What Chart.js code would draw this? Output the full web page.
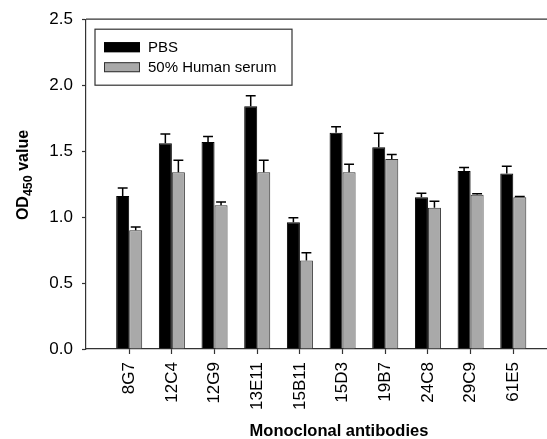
<!DOCTYPE html>
<html>
<head>
<meta charset="utf-8">
<script src="https://cdn.jsdelivr.net/npm/chart.js@4"></script>
<style>
  html, body { margin: 0; padding: 0; background: #fff; }
  #wrap { width: 547px; height: 439px; }
</style>
</head>
<body>
<div id="wrap"><canvas id="chart" width="547" height="439"></canvas></div>
<script>
'use strict';

// ─── Data ─────────────────────────────────────────────────────────────────────

const antibodies = ['8G7', '12C4', '12G9', '13E11', '15B11', '15D3', '19B7', '24C8', '29C9', '61E5'];
const pbsValues   = [1.16, 1.56, 1.57, 1.84, 0.96, 1.64, 1.53, 1.15, 1.35, 1.33];
const pbsErrors   = [0.06, 0.07, 0.04, 0.08, 0.035, 0.045, 0.105, 0.03, 0.025, 0.055];
const serumValues = [0.90, 1.34, 1.09, 1.34, 0.67, 1.34, 1.44, 1.07, 1.17, 1.15];
const serumErrors = [0.025, 0.09, 0.025, 0.09, 0.06, 0.06, 0.035, 0.05, 0.006, 0.006];
const yTicks = [0, 0.5, 1.0, 1.5, 2.0, 2.5];

const FONT = "'Liberation Sans', Arial, sans-serif";

// ─── Plugins ──────────────────────────────────────────────────────────────────

const errorBars = {
  id: 'errorBars',
  afterDatasetsDraw(chart) {
    const { ctx, scales: { y } } = chart;
    ctx.save();
    ctx.strokeStyle = '#000';
    ctx.lineWidth = 1.5;
    chart.data.datasets.forEach((ds, di) => {
      const meta = chart.getDatasetMeta(di);
      meta.data.forEach((bar, i) => {
        const top = y.getPixelForValue(ds.data[i].y + ds.errors[i]);
        const half = bar.width * 0.38;
        ctx.beginPath();
        ctx.moveTo(bar.x, bar.y);
        ctx.lineTo(bar.x, top);
        ctx.moveTo(bar.x - half, top);
        ctx.lineTo(bar.x + half, top);
        ctx.stroke();
      });
    });
    ctx.restore();
  },
};

const frame = {
  id: 'frame',
  afterDraw(chart) {
    const { ctx, chartArea: a } = chart;
    const o = chart.options.plugins.frame;
    ctx.save();

    // top border
    ctx.strokeStyle = '#333';
    ctx.lineWidth = 1.2;
    ctx.beginPath();
    ctx.moveTo(a.left, a.top);
    ctx.lineTo(a.right, a.top);
    ctx.stroke();

    // legend box
    const lx = a.left + 9, ly = a.top + 10;
    ctx.lineWidth = 1.2;
    ctx.strokeRect(lx, ly, 197, 56);
    ctx.font = `15px ${FONT}`;
    ctx.textBaseline = 'middle';
    chart.data.datasets.forEach((ds, i) => {
      const ry = ly + 18 + i * 20;
      ctx.fillStyle = ds.backgroundColor;
      ctx.fillRect(lx + 9, ry - 5, 36, 10);
      ctx.strokeStyle = ds.borderColor;
      ctx.lineWidth = 1;
      ctx.strokeRect(lx + 9.5, ry - 4.5, 35, 9);
      ctx.fillStyle = '#000';
      ctx.fillText(ds.label, lx + 53, ry + 1);
    });

    // x axis title
    ctx.font = `bold 16.5px ${FONT}`;
    ctx.textAlign = 'center';
    ctx.textBaseline = 'alphabetic';
    ctx.fillStyle = '#000';
    ctx.fillText(o.xTitle, o.xTitleX, o.xTitleY);

    // y axis title with subscript
    ctx.translate(o.yTitleX, o.yTitleY);
    ctx.rotate(-Math.PI / 2);
    ctx.textAlign = 'left';
    const big = `bold 16px ${FONT}`, small = `bold 12.5px ${FONT}`;
    ctx.font = big;   const w1 = ctx.measureText('OD').width;
    ctx.font = small; const w2 = ctx.measureText('450').width;
    ctx.font = big;   const w3 = ctx.measureText(' value').width;
    let x = -(w1 + w2 + w3) / 2;
    ctx.font = big;   ctx.fillText('OD', x, 5); x += w1;
    ctx.font = small; ctx.fillText('450', x, 9); x += w2;
    ctx.font = big;   ctx.fillText(' value', x, 5);
    ctx.restore();
  },
};

// ─── Chart ────────────────────────────────────────────────────────────────────

function toPoints(values) {
  return values.map((v, i) => ({ x: i, y: v }));
}

new Chart(document.getElementById('chart'), {
  type: 'bar',
  data: {
    datasets: [
      {
        label: 'PBS',
        data: toPoints(pbsValues),
        errors: pbsErrors,
        backgroundColor: '#000000',
        borderColor: '#000000',
        borderWidth: 1,
      },
      {
        label: '50% Human serum',
        data: toPoints(serumValues),
        errors: serumErrors,
        backgroundColor: '#a9a9a9',
        borderColor: '#333333',
        borderWidth: 1,
      },
    ],
  },
  options: {
    responsive: false,
    animation: false,
    layout: { padding: { top: 19, right: 0, left: 0, bottom: 0 } },
    categoryPercentage: 0.61,
    barPercentage: 1.0,
    plugins: {
      legend: { display: false },
      tooltip: { enabled: false },
      frame: {
        xTitle: 'Monoclonal antibodies',
        xTitleX: 339, xTitleY: 436,
        yTitleX: 23, yTitleY: 175,
      },
    },
    scales: {
      x: {
        type: 'linear',
        offset: false,
        min: -1.012,
        max: 9.79,
        afterBuildTicks: (s) => { s.ticks = antibodies.map((_, i) => ({ value: i })); },
        afterFit: (s) => { s.height = 90; },
        grid: { display: true, drawOnChartArea: false, offset: false, tickLength: 5, color: '#333', tickWidth: 1.2 },
        border: { display: true, color: '#333', width: 1.2 },
        ticks: {
          minRotation: 90,
          maxRotation: 90,
          padding: 8,
          color: '#000',
          font: { family: FONT, size: 17 },
          callback: (v) => antibodies[v] ?? '',
        },
      },
      y: {
        min: 0,
        max: 2.5,
        afterBuildTicks: (s) => { s.ticks = yTicks.map((v) => ({ value: v })); },
        afterFit: (s) => { s.width = 86; },
        grid: { display: true, drawOnChartArea: false, tickLength: 4, color: '#333', tickWidth: 1.2 },
        border: { display: true, color: '#333', width: 1.2 },
        ticks: {
          padding: 9,
          color: '#000',
          font: { family: FONT, size: 17 },
          callback: (v) => v.toFixed(1),
        },
      },
    },
  },
  plugins: [errorBars, frame],
});
</script>
</body>
</html>
